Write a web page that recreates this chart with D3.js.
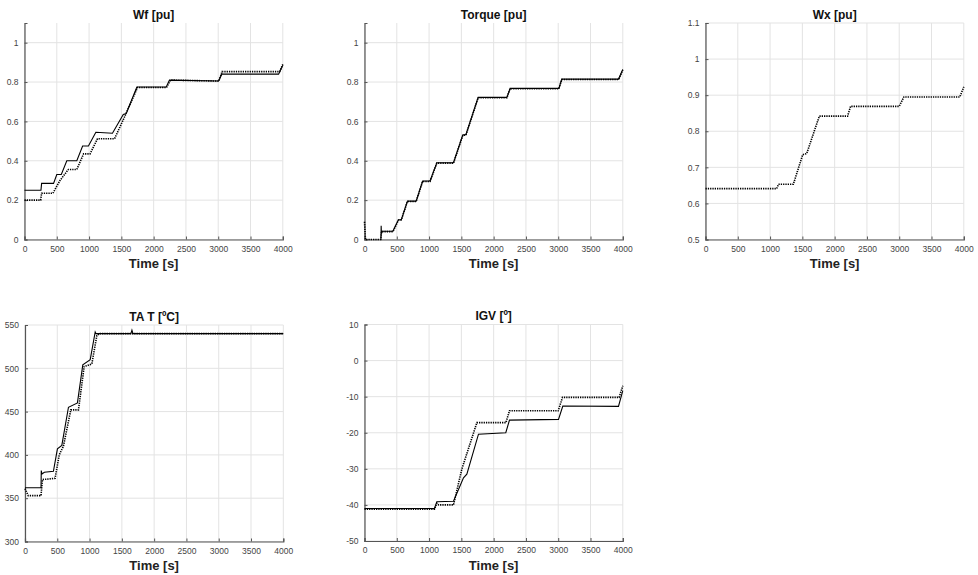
<!DOCTYPE html>
<html>
<head>
<meta charset="utf-8">
<script src="https://cdn.jsdelivr.net/npm/d3@7/dist/d3.min.js"></script>
<style>
  body { margin: 0; background: #fff; }
  svg { display: block; font-family: "Liberation Sans", Arial, sans-serif; }
</style>
</head>
<body>
<svg id="chart" width="978" height="575"></svg>
<script>
// ---------------- DATA ----------------
const timeTicks = [0, 500, 1000, 1500, 2000, 2500, 3000, 3500, 4000];

const wfTicks = [0, 0.2, 0.4, 0.6, 0.8, 1];
const wfSolid = [[0,0.25],[255,0.25],[265,0.285],[450,0.285],[500,0.33],[570,0.33],[655,0.40],[810,0.40],[900,0.475],[990,0.475],[1105,0.545],[1362,0.54],[1530,0.635],[1575,0.64],[1740,0.775],[2195,0.775],[2245,0.81],[3005,0.805],[3055,0.84],[3935,0.84],[4000,0.885]];
const wfDotted = [[0,0.20],[250,0.20],[265,0.235],[440,0.235],[550,0.30],[680,0.356],[810,0.356],[915,0.435],[1015,0.435],[1130,0.512],[1395,0.512],[1545,0.62],[1750,0.772],[2200,0.772],[2260,0.81],[3010,0.805],[3060,0.853],[3950,0.853],[4000,0.89]];

const tqTicks = [0, 0.2, 0.4, 0.6, 0.8, 1];
const tqSolid = [[255,0],[258,0.07],[262,0.03],[268,0.042],[440,0.042],[525,0.10],[570,0.10],[665,0.195],[800,0.195],[900,0.297],[1015,0.297],[1120,0.39],[1378,0.39],[1523,0.532],[1570,0.532],[1760,0.722],[2205,0.722],[2255,0.768],[3010,0.768],[3055,0.815],[3935,0.815],[4000,0.864]];
const tqDotted = [[0,0.09],[15,0],[250,0],[265,0.04],[440,0.04],[525,0.098],[570,0.10],[665,0.193],[800,0.193],[900,0.295],[1015,0.295],[1120,0.388],[1378,0.388],[1523,0.53],[1570,0.53],[1760,0.72],[2205,0.72],[2255,0.766],[3010,0.766],[3055,0.813],[3935,0.813],[4000,0.862]];

const wxTicks = [0.5, 0.6, 0.7, 0.8, 0.9, 1, 1.1];
const wxDotted = [[0,0.641],[1103,0.641],[1130,0.653],[1360,0.653],[1505,0.735],[1567,0.738],[1763,0.842],[2200,0.842],[2247,0.869],[3000,0.869],[3072,0.895],[3938,0.895],[4000,0.923]];

const tatTicks = [300, 350, 400, 450, 500, 550];
const tatSolid = [[0,362],[248,362],[252,382],[262,378],[300,380],[440,381],[502,407],[570,411],[673,455],[812,460],[895,504],[1010,510],[1087,542],[1100,540],[1400,540],[1640,540],[1656,544],[1672,540],[4000,540]];
const tatDotted = [[0,361],[50,353],[248,353],[270,371.5],[466,373],[530,400],[595,410],[709,452],[828,452],[916,502],[1035,505],[1113,538],[1150,540],[4000,540]];

const igvTicks = [-50, -40, -30, -20, -10, 0, 10];
const igvSolid = [[0,-41],[1084,-41],[1120,-39.1],[1378,-39],[1533,-32.5],[1585,-31.5],[1765,-20.4],[2188,-20],[2245,-16.5],[3004,-16.3],[3071,-12.6],[3933,-12.7],[4000,-8.3]];
const igvDotted = [[0,-41.2],[1084,-41.2],[1120,-39.5],[1150,-40],[1378,-40],[1507,-30.1],[1740,-17.2],[2190,-17.2],[2245,-13.9],[3000,-13.9],[3066,-10.2],[3943,-10.2],[4000,-7]];

// ---------------- LAYOUT ----------------
const fmtG = d => String(+d.toFixed(6));
const panels = [
  { title: "Wf [pu]",     left: 24.5,  top: 23,  yDomain: [0, 1.1],   yTicks: wfTicks,  series: [{d: wfSolid, dot: false}, {d: wfDotted, dot: true}] },
  { title: "Torque [pu]", left: 364.5, top: 23,  yDomain: [0, 1.1],   yTicks: tqTicks,  series: [{d: tqSolid, dot: false}, {d: tqDotted, dot: true}] },
  { title: "Wx [pu]",     left: 705.5, top: 23,  yDomain: [0.5, 1.1], yTicks: wxTicks,  series: [{d: wxDotted, dot: true}] },
  { title: "TA T [ºC]",   left: 25,    top: 325, yDomain: [300, 550], yTicks: tatTicks, series: [{d: tatSolid, dot: false}, {d: tatDotted, dot: true}] },
  { title: "IGV [º]",     left: 364.5, top: 324.5, yDomain: [-50, 10], yTicks: igvTicks, series: [{d: igvSolid, dot: false}, {d: igvDotted, dot: true}] }
];
const W = 258.3, H = 216.5;

const svg = d3.select("#chart");

panels.forEach(p => {
  const g = svg.append("g").attr("transform", `translate(${p.left},${p.top})`);
  const x = d3.scaleLinear().domain([0, 4000]).range([0, W]);
  const y = d3.scaleLinear().domain(p.yDomain).range([H, 0]);

  // grid
  g.append("g").selectAll("line").data(timeTicks).join("line")
    .attr("x1", d => x(d)).attr("x2", d => x(d)).attr("y1", 0).attr("y2", H)
    .attr("stroke", "#e3e3e3").attr("stroke-width", 1);
  g.append("g").selectAll("line").data(p.yTicks).join("line")
    .attr("x1", 0).attr("x2", W).attr("y1", d => y(d)).attr("y2", d => y(d))
    .attr("stroke", "#e3e3e3").attr("stroke-width", 1);

  // axes
  const xAxis = d3.axisBottom(x).tickValues(timeTicks).tickSize(-3).tickPadding(6).tickFormat(fmtG);
  const yAxis = d3.axisLeft(y).tickValues(p.yTicks).tickSize(-3).tickPadding(6).tickFormat(fmtG);
  const gx = g.append("g").attr("transform", `translate(0,${H})`).call(xAxis);
  const gy = g.append("g").call(yAxis);
  [gx, gy].forEach(a => {
    a.select(".domain").attr("stroke", "#555").attr("stroke-width", 1.2);
    a.selectAll(".tick line").attr("stroke", "#555");
    a.selectAll(".tick text").attr("fill", "#444").style("font-size", "8.5px");
  });

  // lines
  const line = d3.line().x(d => x(d[0])).y(d => y(d[1]));
  p.series.forEach(s => {
    g.append("path").datum(s.d).attr("d", line)
      .attr("fill", "none").attr("stroke", "#000")
      .attr("stroke-width", s.dot ? 1.6 : 1.1)
      .attr("stroke-dasharray", s.dot ? "1.3,1" : null);
  });

  // titles
  g.append("text").attr("x", W / 2).attr("y", -4.5).attr("text-anchor", "middle")
    .style("font-size", "12px").style("font-weight", "bold").attr("fill", "#111").text(p.title);
  g.append("text").attr("x", W / 2).attr("y", H + 28.5).attr("text-anchor", "middle")
    .style("font-size", "13px").style("font-weight", "bold").attr("fill", "#222").text("Time [s]");
});
</script>
</body>
</html>
